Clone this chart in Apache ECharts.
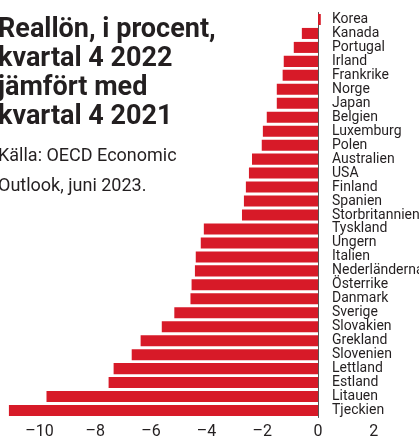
<!DOCTYPE html>
<html>
<head>
<meta charset="utf-8">
<script src="https://cdn.jsdelivr.net/npm/echarts@6/dist/echarts.min.js"></script>
<style>
html, body { margin: 0; padding: 0; background: #fff; }
#chart { width: 419px; height: 438px; }
</style>
</head>
<body>
<div id="chart"></div>
<script>
var countries = ['Korea', 'Kanada', 'Portugal', 'Irland', 'Frankrike', 'Norge', 'Japan', 'Belgien',
	'Luxemburg', 'Polen', 'Australien', 'USA', 'Finland', 'Spanien', 'Storbritannien', 'Tyskland',
	'Ungern', 'Italien', 'Nederländerna', 'Österrike', 'Danmark', 'Sverige', 'Slovakien', 'Grekland',
	'Slovenien', 'Lettland', 'Estland', 'Litauen', 'Tjeckien'];
var realWage = [0.1, -0.58, -0.87, -1.23, -1.27, -1.48, -1.48, -1.84,
	-1.98, -2.02, -2.37, -2.48, -2.59, -2.66, -2.73, -4.10,
	-4.21, -4.39, -4.42, -4.54, -4.58, -5.16, -5.61, -6.37,
	-6.69, -7.34, -7.52, -9.75, -11.1];
var xTicks = [-10, -8, -6, -4, -2, 0, 2];

var titleText = 'Reallön, i procent,\nkvartal 4 2022\njämfört med\nkvartal 4 2021';
var sourceText = 'Källa: OECD Economic\nOutlook, juni 2023.';

var W = 419;
var xMin = -11.42, xMax = 3.627;
// y axis sits on x = 0, the labels to the right of it
var zeroOffset = -W * (0 - xMin) / (xMax - xMin);

var chart = echarts.init(document.getElementById('chart'));
chart.setOption({
	animation: false,
	title: {
		text: titleText,
		subtext: sourceText,
		left: -2,
		top: 16,
		padding: 0,
		itemGap: 9,
		textStyle: {
			fontFamily: 'Roboto',
			fontWeight: 'bold',
			fontSize: 27,
			lineHeight: 29,
			color: '#231f20'
		},
		subtextStyle: {
			fontFamily: 'Roboto',
			fontSize: 18,
			lineHeight: 30,
			color: '#231f20'
		}
	},
	grid: {
		left: 0,
		right: 0,
		top: 12.5,
		bottom: 20.5,
		outerBoundsMode: 'none'
	},
	xAxis: {
		type: 'value',
		min: xMin,
		max: xMax,
		axisLine: { show: false },
		axisTick: { show: false },
		splitLine: { show: false },
		axisLabel: {
			customValues: xTicks,
			margin: 6,
			fontFamily: 'Roboto',
			fontSize: 16,
			color: '#231f20',
			formatter: function (v) {
				return String(v).replace('-', '\u2013');
			}
		}
	},
	yAxis: {
		type: 'category',
		inverse: true,
		position: 'left',
		offset: zeroOffset,
		data: countries,
		axisLine: { show: true, onZero: false, lineStyle: { color: '#555', width: 1 } },
		axisTick: { show: false },
		axisLabel: {
			inside: true,
			interval: 0,
			margin: 14,
			fontFamily: 'Roboto',
			fontSize: 14,
			color: '#231f20'
		}
	},
	series: [{
		type: 'bar',
		data: realWage,
		barCategoryGap: '21%',
		itemStyle: { color: '#d71a28' }
	}]
});
</script>
</body>
</html>
